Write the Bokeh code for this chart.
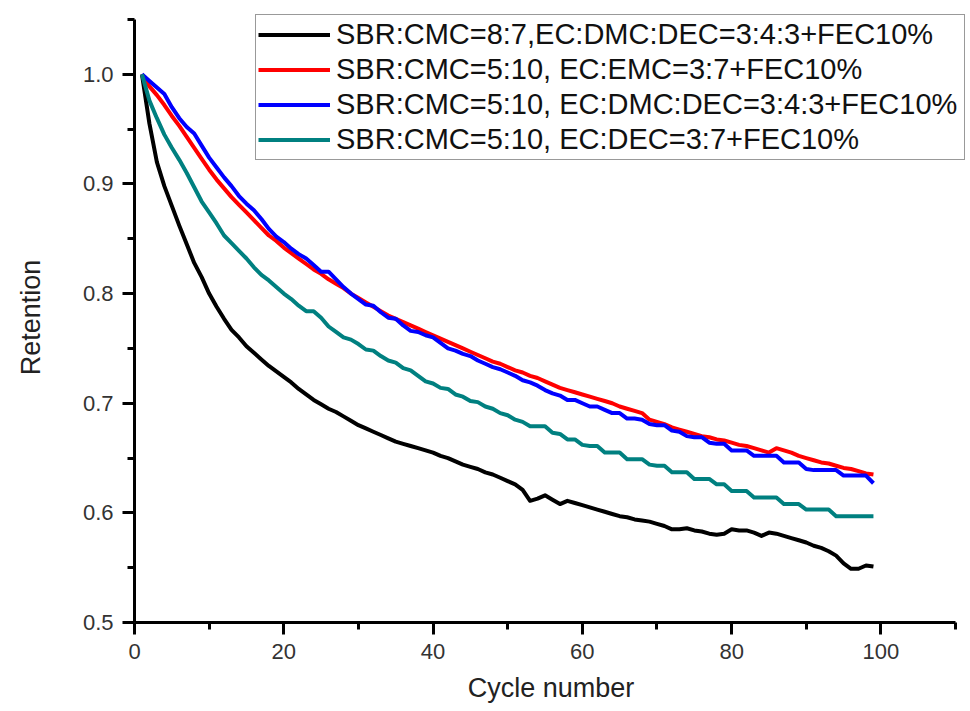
from bokeh.plotting import figure
from bokeh.models import FixedTicker, NumeralTickFormatter, Legend, LegendItem, Range1d
from bokeh.embed import file_html
from bokeh.resources import INLINE

cycles = list(range(1, 100))

black = [1.000, 0.955, 0.920, 0.898, 0.880, 0.862, 0.845, 0.828, 0.815, 0.800,
         0.788, 0.777, 0.767, 0.760, 0.752, 0.746, 0.740, 0.734, 0.729, 0.724,
         0.719, 0.713, 0.708, 0.703, 0.699, 0.695, 0.692, 0.688, 0.684, 0.680,
         0.677, 0.674, 0.671, 0.668, 0.665, 0.663, 0.661, 0.659, 0.657, 0.655,
         0.652, 0.650, 0.647, 0.644, 0.642, 0.640, 0.637, 0.635, 0.632, 0.629,
         0.626, 0.621, 0.611, 0.613, 0.616, 0.612, 0.608, 0.611, 0.609, 0.607,
         0.605, 0.603, 0.601, 0.599, 0.597, 0.596, 0.594, 0.593, 0.592, 0.590,
         0.588, 0.585, 0.585, 0.586, 0.584, 0.583, 0.581, 0.580, 0.581, 0.585,
         0.584, 0.584, 0.582, 0.579, 0.582, 0.581, 0.579, 0.577, 0.575, 0.573,
         0.570, 0.568, 0.565, 0.561, 0.554, 0.549, 0.549, 0.552, 0.551]

red = [1.000, 0.989, 0.981, 0.972, 0.962, 0.953, 0.943, 0.933, 0.923, 0.913,
       0.904, 0.896, 0.888, 0.881, 0.874, 0.867, 0.860, 0.853, 0.848, 0.842,
       0.837, 0.832, 0.827, 0.822, 0.818, 0.813, 0.809, 0.805, 0.800, 0.796,
       0.792, 0.788, 0.784, 0.780, 0.777, 0.774, 0.771, 0.768, 0.765, 0.762,
       0.759, 0.756, 0.753, 0.750, 0.747, 0.744, 0.741, 0.738, 0.736, 0.733,
       0.730, 0.728, 0.725, 0.723, 0.720, 0.717, 0.714, 0.712, 0.710, 0.708,
       0.706, 0.704, 0.702, 0.700, 0.697, 0.695, 0.693, 0.691, 0.685, 0.683,
       0.681, 0.678, 0.676, 0.674, 0.672, 0.670, 0.669, 0.667, 0.666, 0.664,
       0.662, 0.661, 0.659, 0.657, 0.655, 0.659, 0.657, 0.655, 0.652, 0.650,
       0.648, 0.646, 0.645, 0.643, 0.641, 0.640, 0.638, 0.636, 0.635]

blue = [1.000, 0.994, 0.988, 0.982, 0.970, 0.960, 0.952, 0.946, 0.935, 0.924,
        0.915, 0.906, 0.898, 0.889, 0.882, 0.876, 0.868, 0.859, 0.852, 0.847,
        0.841, 0.836, 0.832, 0.826, 0.820, 0.820, 0.813, 0.806, 0.800, 0.795,
        0.790, 0.789, 0.783, 0.778, 0.777, 0.771, 0.766, 0.765, 0.762, 0.760,
        0.755, 0.750, 0.748, 0.745, 0.743, 0.739, 0.736, 0.733, 0.731, 0.728,
        0.725, 0.721, 0.719, 0.716, 0.712, 0.709, 0.707, 0.703, 0.703, 0.700,
        0.697, 0.697, 0.694, 0.691, 0.691, 0.686, 0.686, 0.685, 0.681, 0.680,
        0.680, 0.675, 0.674, 0.670, 0.669, 0.669, 0.664, 0.663, 0.663, 0.657,
        0.657, 0.657, 0.652, 0.652, 0.652, 0.652, 0.646, 0.646, 0.646, 0.640,
        0.639, 0.639, 0.639, 0.639, 0.634, 0.634, 0.634, 0.634, 0.627]

teal = [1.000, 0.976, 0.960, 0.945, 0.933, 0.922, 0.910, 0.897, 0.884, 0.874,
        0.864, 0.853, 0.846, 0.839, 0.832, 0.824, 0.817, 0.812, 0.806, 0.800,
        0.795, 0.789, 0.784, 0.784, 0.778, 0.770, 0.765, 0.760, 0.758, 0.754,
        0.749, 0.748, 0.743, 0.739, 0.737, 0.732, 0.730, 0.725, 0.720, 0.718,
        0.714, 0.713, 0.708, 0.706, 0.702, 0.701, 0.697, 0.695, 0.691, 0.689,
        0.685, 0.683, 0.679, 0.679, 0.679, 0.673, 0.672, 0.667, 0.667, 0.662,
        0.661, 0.661, 0.655, 0.655, 0.655, 0.649, 0.649, 0.649, 0.644, 0.643,
        0.643, 0.637, 0.637, 0.637, 0.631, 0.631, 0.631, 0.626, 0.626, 0.620,
        0.620, 0.620, 0.614, 0.614, 0.614, 0.614, 0.608, 0.608, 0.608, 0.603,
        0.603, 0.603, 0.603, 0.597, 0.597, 0.597, 0.597, 0.597, 0.597]

labels = ["SBR:CMC=8:7,EC:DMC:DEC=3:4:3+FEC10%",
          "SBR:CMC=5:10, EC:EMC=3:7+FEC10%",
          "SBR:CMC=5:10, EC:DMC:DEC=3:4:3+FEC10%",
          "SBR:CMC=5:10, EC:DEC=3:7+FEC10%"]
colors = ["#000000", "#ff0000", "#0000ff", "#008080"]
series = [black, red, blue, teal]

x_major = [0, 20, 40, 60, 80, 100]
x_minor = [10, 30, 50, 70, 90, 110]
y_major = [0.5, 0.6, 0.7, 0.8, 0.9, 1.0]
y_minor = [0.55, 0.65, 0.75, 0.85, 0.95, 1.05]

FONT = "Liberation Sans"

# frame is made slightly larger than the axes so the legend is not clipped;
# axis lines are limited to 0..110 and 0.5..1.05 with bounds
p = figure(width=970, height=711, output_backend="svg", toolbar_location=None,
           x_range=Range1d(0, 111.6), y_range=Range1d(0.5, 1.0564),
           min_border_left=134, min_border_top=12, min_border_right=3,
           min_border_bottom=89)
p.outline_line_color = None
p.grid.visible = False
p.background_fill_color = "white"
p.border_fill_color = "white"

renderers = []
for ys, c in zip(series, colors):
    r = p.line(cycles, ys, line_color=c, line_width=4, line_join="round")
    renderers.append(r)

for ax in (p.xaxis[0], p.yaxis[0]):
    ax.axis_line_width = 3
    ax.axis_line_color = "black"
    ax.major_tick_line_width = 3
    ax.minor_tick_line_width = 3
    ax.major_tick_line_color = "black"
    ax.minor_tick_line_color = "black"
    ax.major_tick_out = 12
    ax.major_tick_in = 0
    ax.minor_tick_out = 7
    ax.minor_tick_in = 0
    ax.major_label_text_font = FONT
    ax.major_label_text_font_size = "22px"
    ax.major_label_text_color = "#333333"
    ax.major_label_standoff = 9
    ax.axis_label_text_font = FONT
    ax.axis_label_text_font_size = "27px"
    ax.axis_label_text_font_style = "normal"
    ax.axis_label_text_color = "#222222"

p.xaxis[0].ticker = FixedTicker(ticks=x_major, minor_ticks=x_minor)
p.yaxis[0].ticker = FixedTicker(ticks=y_major, minor_ticks=y_minor)
p.xaxis[0].bounds = (0, 110)
p.yaxis[0].bounds = (0.5, 1.05)
p.yaxis[0].formatter = NumeralTickFormatter(format="0.0")
p.xaxis[0].axis_label = "Cycle number"
p.yaxis[0].axis_label = "Retention"
p.xaxis[0].axis_label_standoff = 11
p.yaxis[0].axis_label_standoff = 34

legend = Legend(items=[LegendItem(label=l, renderers=[r]) for l, r in zip(labels, renderers)],
                location=(121, 462))
legend.label_text_font = FONT
legend.label_text_font_size = "29px"
legend.label_text_color = "#111111"
legend.glyph_width = 72
legend.glyph_height = 35
legend.label_height = 35
legend.label_width = 626
legend.label_standoff = 6
legend.spacing = 0
legend.padding = 2
legend.margin = 0
legend.border_line_color = "#333333"
legend.border_line_width = 1.5
legend.background_fill_color = "white"
legend.background_fill_alpha = 1.0
p.add_layout(legend, "center")

open("out.html", "w").write(file_html(p, INLINE))
